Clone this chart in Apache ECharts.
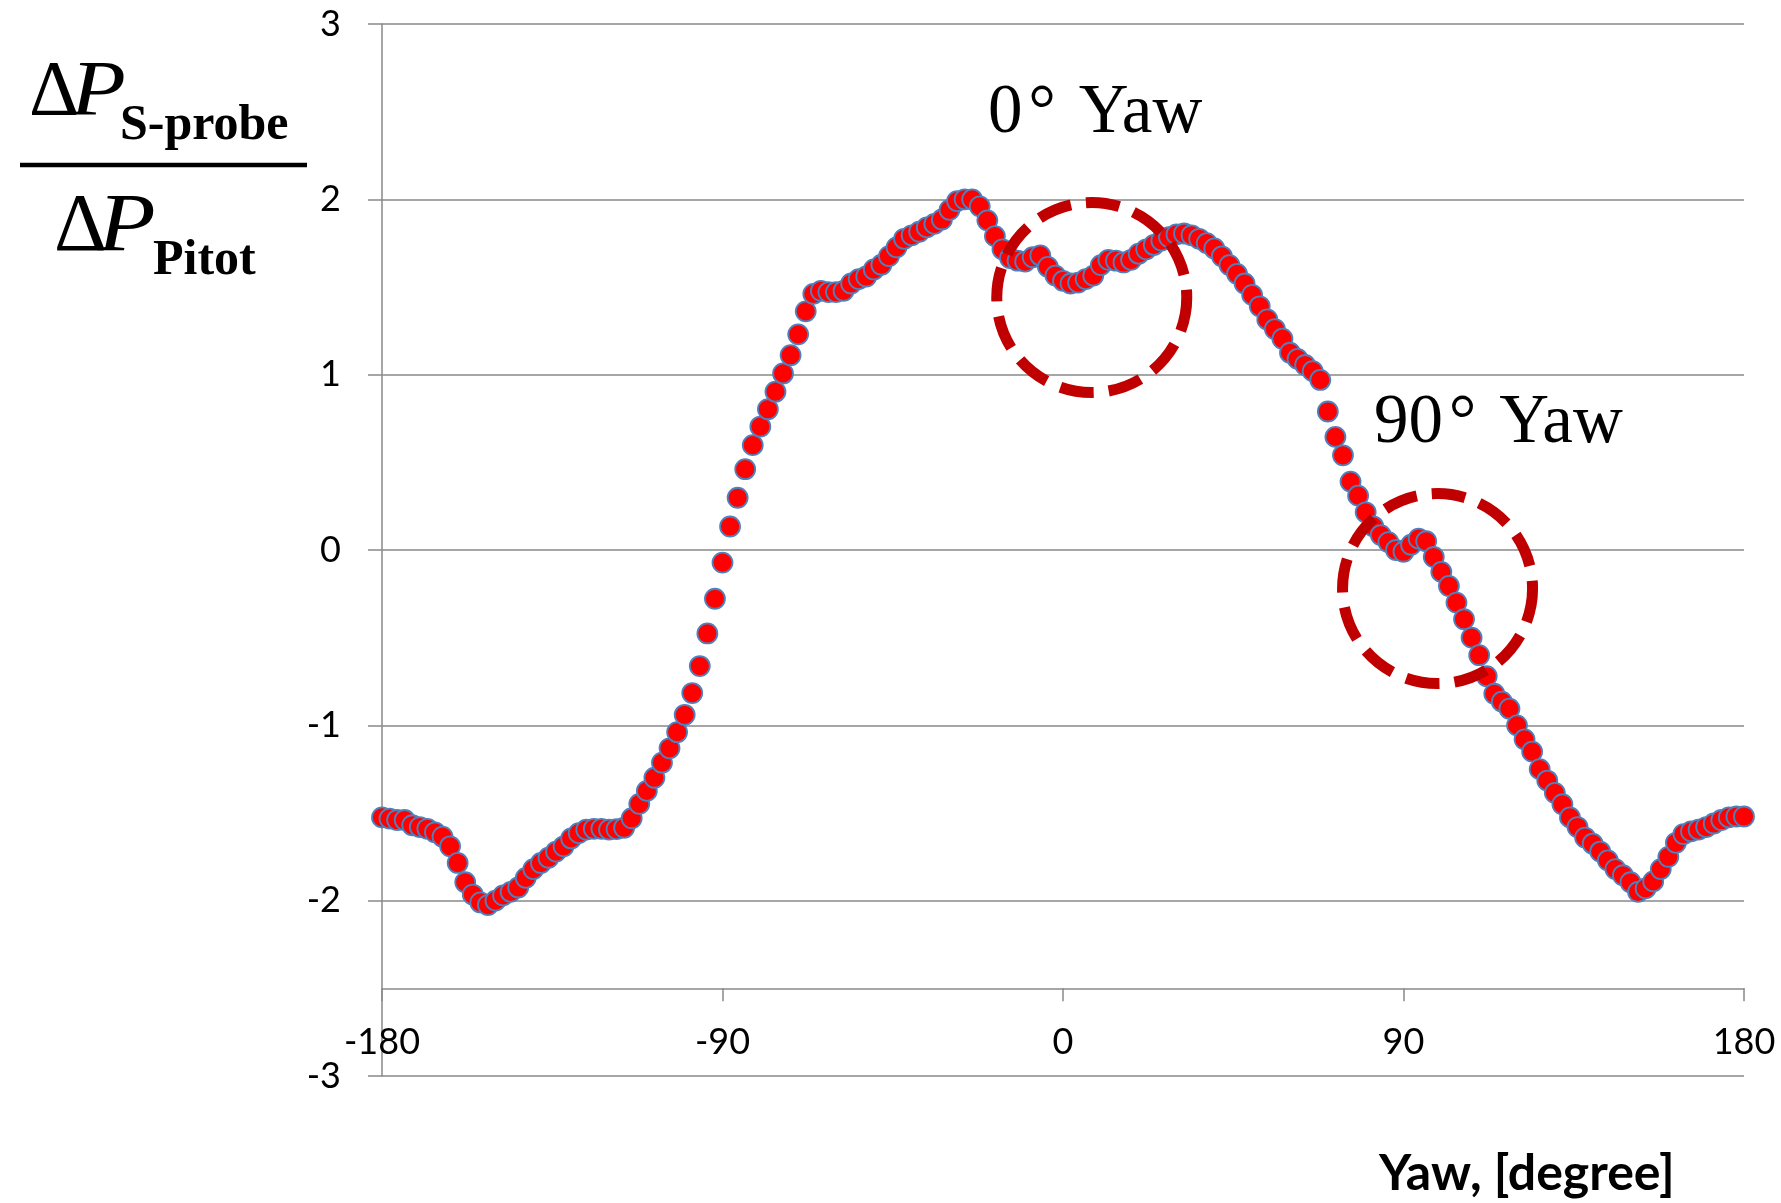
<!DOCTYPE html>
<html>
<head>
<meta charset="utf-8">
<script src="https://cdn.jsdelivr.net/npm/echarts@6/dist/echarts.min.js"></script>
<style>
  html, body { margin: 0; padding: 0; background: #ffffff; }
  #chart { width: 1781px; height: 1203px; }
</style>
</head>
<body>
<div id="chart"></div>
<script>
// Yaw angle of the S-type probe, degrees
const yawDeg = [
  -180, -178, -176, -174, -172, -170, -168, -166, -164, -162,
  -160, -158, -156, -154, -152, -150, -148, -146, -144, -142,
  -140, -138, -136, -134, -132, -130, -128, -126, -124, -122,
  -120, -118, -116, -114, -112, -110, -108, -106, -104, -102,
  -100, -98, -96, -94, -92, -90, -88, -86, -84, -82,
  -80, -78, -76, -74, -72, -70, -68, -66, -64, -62,
  -60, -58, -56, -54, -52, -50, -48, -46, -44, -42,
  -40, -38, -36, -34, -32, -30, -28, -26, -24, -22,
  -20, -18, -16, -14, -12, -10, -8, -6, -4, -2,
  0, 2, 4, 6, 8, 10, 12, 14, 16, 18,
  20, 22, 24, 26, 28, 30, 32, 34, 36, 38,
  40, 42, 44, 46, 48, 50, 52, 54, 56, 58,
  60, 62, 64, 66, 68, 70, 72, 74, 76, 78,
  80, 82, 84, 86, 88, 90, 92, 94, 96, 98,
  100, 102, 104, 106, 108, 110, 112, 114, 116, 118,
  120, 122, 124, 126, 128, 130, 132, 134, 136, 138,
  140, 142, 144, 146, 148, 150, 152, 154, 156, 158,
  160, 162, 164, 166, 168, 170, 172, 174, 176, 178,
  180
];

// Differential pressure ratio, S-probe over Pitot
const pressureRatio = [
  -1.525, -1.532, -1.54, -1.54, -1.57, -1.58, -1.59, -1.61, -1.635, -1.69,
  -1.785, -1.895, -1.965, -2.01, -2.025, -2.0, -1.97, -1.95, -1.925, -1.87,
  -1.82, -1.785, -1.755, -1.72, -1.69, -1.645, -1.615, -1.595, -1.59, -1.59,
  -1.595, -1.592, -1.584, -1.53, -1.448, -1.374, -1.299, -1.213, -1.131, -1.039,
  -0.94, -0.816, -0.662, -0.476, -0.278, -0.072, 0.134, 0.298, 0.461, 0.598,
  0.704, 0.803, 0.903, 1.007, 1.111, 1.23, 1.361, 1.461, 1.478, 1.471,
  1.471, 1.478, 1.52, 1.545, 1.56, 1.60, 1.627, 1.676, 1.726, 1.775,
  1.795, 1.815, 1.84, 1.86, 1.885, 1.94, 1.99, 2.0, 2.0, 1.96,
  1.88, 1.79, 1.715, 1.665, 1.65, 1.645, 1.67, 1.68, 1.615, 1.565,
  1.535, 1.52, 1.525, 1.545, 1.565, 1.625, 1.655, 1.65, 1.64, 1.655,
  1.69, 1.715, 1.74, 1.765, 1.785, 1.80, 1.805, 1.795, 1.775, 1.75,
  1.72, 1.675, 1.625, 1.575, 1.52, 1.455, 1.39, 1.315, 1.26, 1.205,
  1.125, 1.09, 1.055, 1.02, 0.97, 0.79, 0.645, 0.54, 0.39, 0.31,
  0.215, 0.135, 0.085, 0.045, 0.0, -0.01, 0.03, 0.065, 0.05, -0.04,
  -0.125, -0.205, -0.30, -0.395, -0.50, -0.60, -0.72, -0.82, -0.865, -0.905,
  -1.0, -1.08, -1.15, -1.25, -1.315, -1.385, -1.45, -1.525, -1.58, -1.64,
  -1.675, -1.72, -1.77, -1.82, -1.855, -1.895, -1.95, -1.93, -1.89, -1.82,
  -1.75, -1.67, -1.62, -1.605, -1.595, -1.58, -1.56, -1.54, -1.525, -1.52,
  -1.52
];

// Axis ranges and tick steps
const yawRange = [-180, 180];
const yawStep = 90;
const ratioRange = [-3, 3];
const ratioStep = 1;
const xAxisCrossing = -2.5;   // value of the ratio axis where the yaw axis is drawn

// Highlighted regions: [yaw, ratio] centres
const zoneCentres = [[7.6, 1.44], [99.0, -0.22]];
const zoneLabels = ['0\u200A\u00B0\u200A Yaw', '90\u200A\u00B0\u200A Yaw'];

const GRID = { left: 382, right: 37, top: 24, bottom: 127 };
const AXIS_GREY = '#898989';
const TICK_FONT = 'Lato';
const SERIF = '"Liberation Serif", "Times New Roman", serif';

const chart = echarts.init(document.getElementById('chart'), null, { renderer: 'canvas' });

const plotHeight = 1203 - GRID.top - GRID.bottom;
const crossOffset = -plotHeight * (xAxisCrossing - ratioRange[0]) / (ratioRange[1] - ratioRange[0]);

const points = yawDeg.map((x, i) => [x, pressureRatio[i]]);

function textEl(text, x, baseline, font, size, extra) {
  // vertical middle of the em box sits about a third of the size above the baseline
  return Object.assign({
    type: 'text',
    x: x,
    y: baseline - 0.3375 * size,
    z: 100,
    style: {
      text: text,
      font: font,
      fill: '#000000',
      align: 'left',
      verticalAlign: 'middle',
      textAlign: 'left',
      textVerticalAlign: 'middle'
    }
  }, extra || {});
}

const titleGraphics = [
  // numerator
  textEl('\u0394', 29, 120, '78px ' + SERIF, 78),
  textEl('P', 71, 120, 'italic 78px ' + SERIF, 78, { scaleX: 1.15 }),
  textEl('S-probe', 120, 143.3, 'bold 50px ' + SERIF, 50),
  // fraction bar
  { type: 'rect', shape: { x: 20, y: 162.7, width: 287, height: 4.6 }, style: { fill: '#000000' }, z: 100 },
  // denominator
  textEl('\u0394', 54, 256, '82px ' + SERIF, 82),
  textEl('P', 98, 256, 'italic 82px ' + SERIF, 82, { scaleX: 1.15 }),
  textEl('Pitot', 153, 278.3, 'bold 50px ' + SERIF, 50),
  // region labels
  textEl(zoneLabels[0], 988, 137, '69px ' + SERIF, 69),
  textEl(zoneLabels[1], 1374, 447, '69px ' + SERIF, 69),
  // x axis title
  {
    type: 'text', x: 1379, y: 1193 - 0.387 * 50, z: 100,
    style: {
      text: 'Yaw, [degree]', font: 'bold 50px Lato', fill: '#000000',
      align: 'left', verticalAlign: 'middle', textAlign: 'left', textVerticalAlign: 'middle'
    }
  }
];

chart.setOption({
  animation: false,
  backgroundColor: '#ffffff',
  grid: { left: GRID.left, right: GRID.right, top: GRID.top, bottom: GRID.bottom, containLabel: false },
  xAxis: {
    type: 'value',
    min: yawRange[0], max: yawRange[1], interval: yawStep,
    offset: crossOffset,
    axisLine: { show: true, onZero: false, lineStyle: { color: AXIS_GREY, width: 1.5 } },
    axisTick: { show: true, inside: false, length: 13, lineStyle: { color: AXIS_GREY, width: 1.5 } },
    axisLabel: { color: '#000000', fontFamily: TICK_FONT, fontSize: 36, margin: 36, showMinLabel: true, showMaxLabel: true },
    splitLine: { show: false }
  },
  yAxis: {
    type: 'value',
    min: ratioRange[0], max: ratioRange[1], interval: ratioStep,
    axisLine: { show: true, onZero: false, lineStyle: { color: AXIS_GREY, width: 1.5 } },
    axisTick: { show: true, inside: false, length: 14, lineStyle: { color: AXIS_GREY, width: 1.5 } },
    axisLabel: { color: '#000000', fontFamily: TICK_FONT, fontSize: 36, margin: 41 },
    splitLine: { show: true, lineStyle: { color: AXIS_GREY, width: 1.5 } }
  },
  series: [{
    type: 'scatter',
    data: points,
    symbol: 'circle',
    symbolSize: 20,
    clip: false,
    itemStyle: { color: '#ff0000', borderColor: '#4F81BD', borderWidth: 1.8, opacity: 1 },
    emphasis: { disabled: true }
  }],
  graphic: titleGraphics
});

// dashed rings around the two yaw regions, placed in data space
const ringRadius = 95;
const rings = zoneCentres.map((c, i) => {
  const p = chart.convertToPixel({ gridIndex: 0 }, c);
  return {
    type: 'circle',
    id: 'ring' + i,
    z: 50,
    shape: { cx: p[0], cy: p[1], r: ringRadius },
    style: { fill: 'none', stroke: '#C00000', lineWidth: 11, lineDash: [34, 15] }
  };
});
chart.setOption({ graphic: titleGraphics.concat(rings) });
</script>
</body>
</html>
